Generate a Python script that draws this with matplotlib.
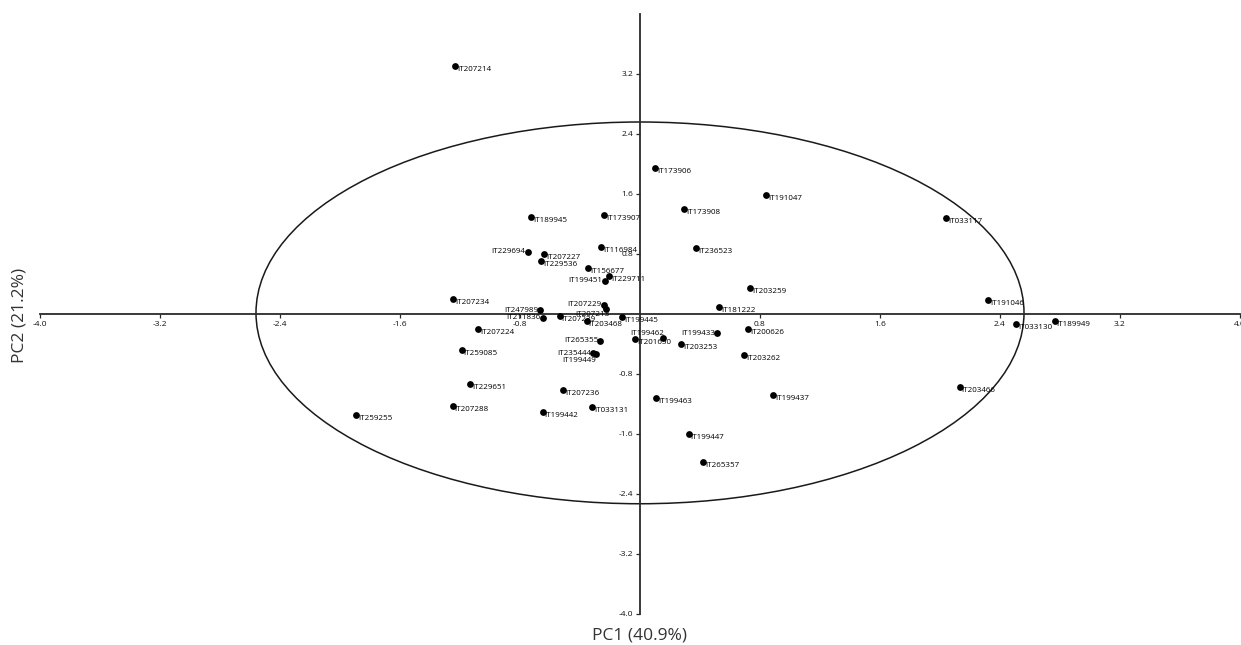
import matplotlib
matplotlib.use("Agg")
import matplotlib.pyplot as plt
from matplotlib.patches import Ellipse

plt.rcParams["font.family"] = ["Open Sans", "DejaVu Sans"]

NAMES = [
    "IT207214", "IT173906", "IT189945", "IT173907", "IT173908", "IT191047",
    "IT236523", "IT203259", "IT181222", "IT033117", "IT191046", "IT033130",
    "IT189949", "IT203466", "IT229694", "IT207227", "IT229536", "IT116984",
    "IT156677", "IT229711", "IT199451", "IT207234", "IT247989", "IT207229",
    "IT207213", "IT211836", "IT207239", "IT203468", "IT199445", "IT207224",
    "IT259085", "IT265355", "IT235444", "IT199449", "IT199462", "IT201650",
    "IT229651", "IT207236", "IT207288", "IT259255", "IT199442", "IT033131",
    "IT199433", "IT200626", "IT203253", "IT203262", "IT199463", "IT199437",
    "IT199447", "IT265357",
]
PC1 = [
    -1.233, 0.102, -0.727, -0.238, 0.295, 0.840,
    0.373, 0.735, 0.529, 2.040, 2.320, 2.509,
    2.764, 2.131, -0.749, -0.638, -0.658, -0.260,
    -0.344, -0.204, -0.236, -1.247, -0.667, -0.242,
    -0.229, -0.649, -0.536, -0.356, -0.122, -1.078,
    -1.189, -0.264, -0.311, -0.293, 0.153, -0.031,
    -1.133, -0.513, -1.249, -1.891, -0.649, -0.318,
    0.513, 0.720, 0.273, 0.695, 0.107, 0.889,
    0.324, 0.418,
]
PC2 = [
    3.310, 1.950, 1.290, 1.316, 1.396, 1.590,
    0.876, 0.351, 0.093, 1.280, 0.182, -0.138,
    -0.093, -0.969, 0.831, 0.800, 0.707, 0.889,
    0.609, 0.507, 0.444, 0.200, 0.053, 0.120,
    0.067, -0.053, -0.027, -0.098, -0.040, -0.204,
    -0.484, -0.356, -0.516, -0.533, -0.316, -0.333,
    -0.929, -1.018, -1.227, -1.347, -1.302, -1.240,
    -0.258, -0.196, -0.404, -0.547, -1.124, -1.084,
    -1.604, -1.969,
]
TICKS = [-4.0, -3.2, -2.4, -1.6, -0.8, 0.8, 1.6, 2.4, 3.2, 4.0]
XLABEL = "PC1 (40.9%)"
YLABEL = "PC2 (21.2%)"

# label placement: (ha, dx, dy) in points; default is right, slightly below
LABEL_POS = {
    "IT229694": ("right", -1.5, 0),
    "IT199451": ("right", -1.5, 0),
    "IT247989": ("right", -1.5, 0),
    "IT207229": ("right", -1.5, 0),
    "IT211836": ("right", -1.5, 0),
    "IT265355": ("right", -1.5, 0),
    "IT235444": ("right", -1.5, -0.5),
    "IT199433": ("right", -1.5, 0),
    "IT199462": ("right", 1.0, 3.0),
    "IT207213": ("right", 3.0, -4.0),
    "IT199449": ("right", 0.0, -4.5),
}

W, H = 1241, 645
fig = plt.figure(figsize=(W / 100, H / 100), dpi=100)
ax = fig.add_axes([40 / W, (H - 614) / H, 1200 / W, 600 / H])

ax.add_patch(Ellipse((0, 0.015), 2 * 2.56, 2 * 2.545, fill=False,
                     ec="#1a1a1a", lw=1.1, zorder=1))
ax.scatter(PC1, PC2, s=24, color="black", zorder=3, linewidths=0)

for name, x, y in zip(NAMES, PC1, PC2):
    ha, dx, dy = LABEL_POS.get(name, ("left", 1.5, -2.5))
    ax.annotate(name, (x, y), xytext=(dx, dy), textcoords="offset points",
                ha=ha, va="center", fontsize=5.8, color="black", zorder=4)

ax.set_xlim(-4, 4)
ax.set_ylim(-4, 4)
for side in ("top", "right"):
    ax.spines[side].set_visible(False)
ax.spines["left"].set_position(("data", 0))
ax.spines["bottom"].set_position(("data", 0))
for side in ("left", "bottom"):
    ax.spines[side].set_color("#2a2a2a")
    ax.spines[side].set_linewidth(1.3)

ax.set_xticks(TICKS)
ax.set_xticklabels([f"{t:.1f}" for t in TICKS])
yt = TICKS[:-1]
ax.set_yticks(yt)
ax.set_yticklabels([f"{t:.1f}" for t in yt])
ax.tick_params(labelsize=6, length=3, width=0.9, pad=2, colors="#2a2a2a",
               labelcolor="#111111")

fig.text(640 / W, 1 - 635 / H, XLABEL, ha="center", va="center",
         fontsize=12.5, color="#333333")
fig.text(20 / W, 1 - 315 / H, YLABEL, ha="center", va="center",
         rotation=90, fontsize=12.5, color="#333333")

fig.savefig("out.png", dpi=100)
